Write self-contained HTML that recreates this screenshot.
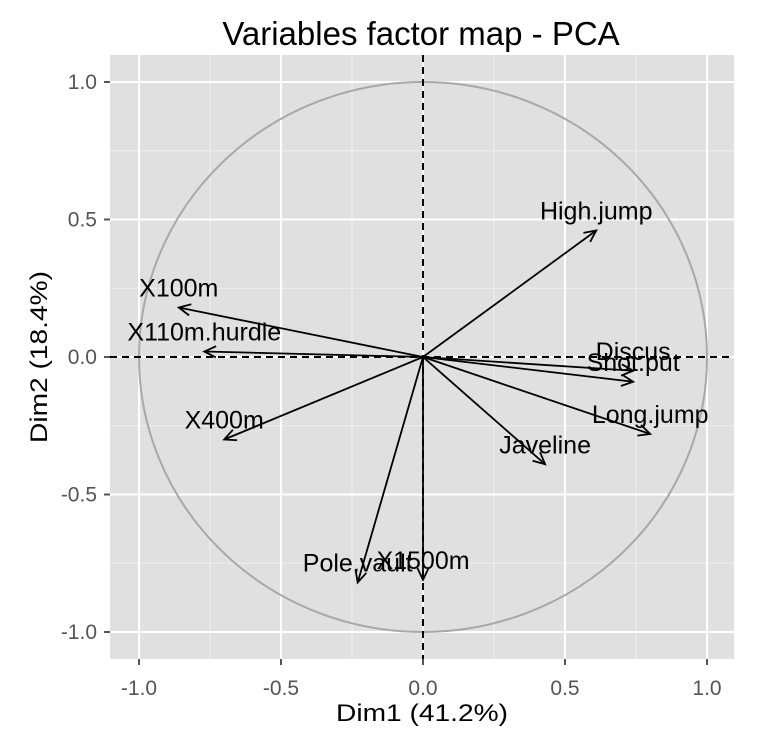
<!DOCTYPE html>
<html><head><meta charset="utf-8"><style>
body{margin:0;background:#fff;}
svg text{font-family:"Liberation Sans",sans-serif;}
</style></head><body>
<svg width="768" height="726">
<rect x="110" y="55" width="624" height="604" fill="#e0e0e0"/>
<g id="grid"></g>
<g id="circle"></g>
<g id="axes"></g>
<g id="arrows"></g>
<text x="421" y="45" font-size="33" text-anchor="middle">Variables factor map - PCA</text>
<text x="422" y="721" font-size="24" text-anchor="middle" textLength="172" lengthAdjust="spacingAndGlyphs">Dim1 (41.2%)</text>
<text x="0" y="0" font-size="24" text-anchor="middle" textLength="172" lengthAdjust="spacingAndGlyphs" transform="translate(47,357) rotate(-90)">Dim2 (18.4%)</text>
</svg>
<script>
const names=["X100m","X110m.hurdle","X400m","Pole.vault","X1500m","Javeline","Long.jump","Discus","Shot.put","High.jump"];
const dim1=[-0.86,-0.77,-0.70,-0.23,0.00,0.43,0.80,0.74,0.74,0.61];
const dim2=[0.18,0.02,-0.30,-0.82,-0.81,-0.39,-0.28,-0.05,-0.09,0.46];
const ticks=[-1,-0.5,0,0.5,1];
const tickLabels=["-1.0","-0.5","0.0","0.5","1.0"];
const minor=[-0.75,-0.25,0.25,0.75];
const NS="http://www.w3.org/2000/svg";
const X=v=>423+v*284, Y=v=>357-v*275;
function mk(p,tag,a){const e=document.createElementNS(NS,tag);for(const k in a)e.setAttribute(k,a[k]);p.appendChild(e);return e;}
const g=document.getElementById('grid');
minor.forEach(v=>{
 const l1=mk(g,'line',{x1:X(v),x2:X(v),y1:55,y2:659,stroke:'#f0f0f0','stroke-width':1});
 
 
 const l2=mk(g,'line',{x1:110,x2:734,y1:Y(v),y2:Y(v),stroke:'#f0f0f0','stroke-width':1});
 
 
});
const ax=document.getElementById('axes');
ticks.forEach((v,i)=>{
 const l1=mk(g,'line',{x1:X(v),x2:X(v),y1:55,y2:659,stroke:'#fff','stroke-width':2});
 
 
 const l2=mk(g,'line',{x1:110,x2:734,y1:Y(v),y2:Y(v),stroke:'#fff','stroke-width':2});
 
 
 mk(ax,'line',{x1:X(v),x2:X(v),y1:659,y2:665,stroke:'#555','stroke-width':2});
 mk(ax,'line',{x1:104,x2:110,y1:Y(v),y2:Y(v),stroke:'#555','stroke-width':2});
 const tx=mk(ax,'text',{x:X(v),y:695,'font-size':21,'text-anchor':'middle',fill:'#555'});
 tx.textContent=tickLabels[i];
 
 
 const ty=mk(ax,'text',{x:97,y:Y(v)+7,'font-size':21,'text-anchor':'end',fill:'#555'});
 ty.textContent=tickLabels[i];
 
 
});
const c=mk(document.getElementById('circle'),'ellipse',{cx:X(0),cy:Y(0),rx:284,ry:275,fill:'none',stroke:'#a8a8a8','stroke-width':2});


const h=mk(ax,'line',{x1:110,x2:734,y1:Y(0),y2:Y(0),stroke:'#000','stroke-width':2,'stroke-dasharray':'7,5'});


const vl=mk(ax,'line',{x1:X(0),x2:X(0),y1:55,y2:659,stroke:'#000','stroke-width':2,'stroke-dasharray':'7,5'});


const ar=document.getElementById('arrows');
names.forEach((n,i)=>{
 const x1=X(0),y1=Y(0),x2=X(dim1[i]),y2=Y(dim2[i]);
 const gg=mk(ar,'g',{});
 
 
 mk(gg,'line',{x1,y1,x2,y2,stroke:'#000','stroke-width':1.8});
 const a=Math.atan2(y2-y1,x2-x1),L=13,w=0.45;
 const p=`M${x2-L*Math.cos(a-w)},${y2-L*Math.sin(a-w)} L${x2},${y2} L${x2-L*Math.cos(a+w)},${y2-L*Math.sin(a+w)}`;
 mk(gg,'path',{d:p,fill:'none',stroke:'#000','stroke-width':1.8});
 const t=mk(gg,'text',{x:x2,y:y2-11,'font-size':25,'text-anchor':'middle'});
 t.textContent=n;
});
</script>
</body></html>
